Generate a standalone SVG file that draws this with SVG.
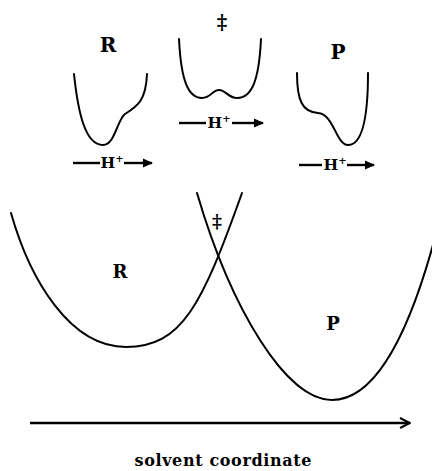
<svg xmlns="http://www.w3.org/2000/svg" width="432" height="471" viewBox="0 0 432 471">
<defs>
<marker id="fh" viewBox="0 0 10 10" refX="9" refY="5" markerWidth="10" markerHeight="10" markerUnits="userSpaceOnUse" orient="auto">
<path d="M0,0.5 L10,5 L0,9.5 Z" fill="#000"/>
</marker>
<marker id="oh" viewBox="0 0 12 12" refX="11" refY="6" markerWidth="12" markerHeight="12" markerUnits="userSpaceOnUse" orient="auto">
<path d="M1,1 L11,6 L1,11" fill="none" stroke="#000" stroke-width="2"/>
</marker>
</defs>
<style>
.c{fill:none;stroke:#000;stroke-width:2;stroke-linecap:round;stroke-linejoin:round}
.l{font-family:"DejaVu Serif","Liberation Serif",serif;font-weight:bold;fill:#000;text-anchor:middle}
.top{font-size:20px}
.big{font-size:18px}
.h{font-family:"DejaVu Serif","Liberation Serif",serif;font-size:15.5px;font-weight:600;fill:#000;text-anchor:middle}
.a{stroke:#000;stroke-width:2.4;fill:none}
</style>
<rect width="432" height="471" fill="#fff"/>

<g id="well-R">
<text class="l top" x="108" y="52">R</text>
<path class="c" d="M74,74 C78,112 85,145 103,145 C115,145 117,120 125,114 C138,106 146,100 147,74"/>
<g id="hplus-R">
<line class="a" x1="73" y1="163" x2="100" y2="163"/>
<text class="h" x="112" y="168">H<tspan font-size="10" dy="-6">+</tspan></text>
<line class="a" x1="124" y1="163" x2="152" y2="163" marker-end="url(#fh)"/>
</g>
</g>

<g id="well-TS">
<text class="l" x="222" y="29" font-size="20">‡</text>
<path class="c" d="M179,39 C181,80 188,98 202,98 C211,98 212,90 219,90 C226,90 228,98 237,98 C252,98 259,80 261,39"/>
<g id="hplus-TS">
<line class="a" x1="179" y1="123" x2="206" y2="123"/>
<text class="h" x="219" y="128">H<tspan font-size="10" dy="-6">+</tspan></text>
<line class="a" x1="232" y1="123" x2="263" y2="123" marker-end="url(#fh)"/>
</g>
</g>

<g id="well-P">
<text class="l top" x="338" y="59">P</text>
<path class="c" d="M297,73 C297,100 302,112 318,113 C334,114 336,145 348,145 C362,145 368,120 368,73"/>
<g id="hplus-P">
<line class="a" x1="299" y1="165" x2="322" y2="165"/>
<text class="h" x="335" y="170">H<tspan font-size="10" dy="-6">+</tspan></text>
<line class="a" x1="347" y1="165" x2="374" y2="165" marker-end="url(#fh)"/>
</g>
</g>

<g id="parabola-R">
<path class="c" d="M11,213 C30,280 70,347 126,347 C182,347 202,305 242,193"/>
<text class="l big" x="120" y="278">R</text>
</g>

<g id="parabola-P">
<path class="c" d="M197,193 C231,309 286,400 332,400 C376,400 409,331 433,245"/>
<text class="l big" x="333" y="330">P</text>
</g>

<g id="crossing-TS">
<text class="l" x="217" y="228" font-size="19">‡</text>
</g>

<g id="connectors">
<line class="a" x1="30" y1="423" x2="410" y2="423" marker-end="url(#oh)"/>
</g>

<g id="axis-label">
<text class="l" x="223" y="466" font-size="16" font-weight="600" textLength="177" lengthAdjust="spacing">solvent coordinate</text>
</g>
</svg>
